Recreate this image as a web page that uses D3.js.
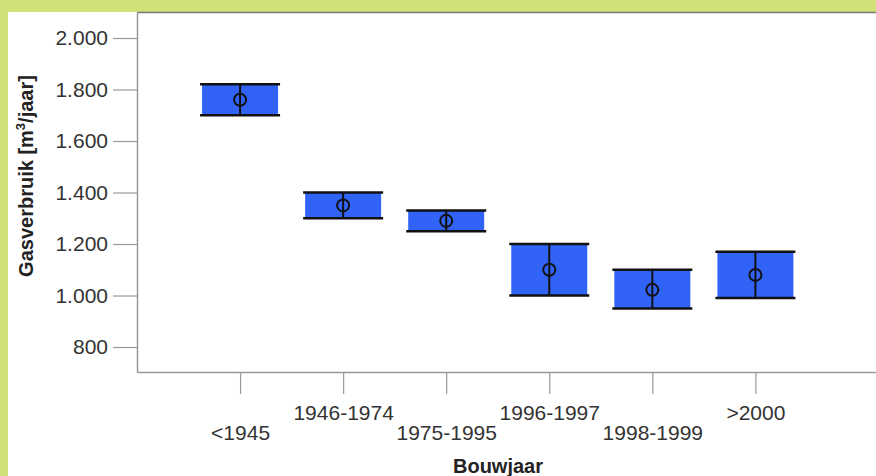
<!DOCTYPE html>
<html>
<head>
<meta charset="utf-8">
<script src="https://cdn.jsdelivr.net/npm/d3@7/dist/d3.min.js"></script>
<style>
  body { margin: 0; background: #d2e07a; }
  svg { display: block; }
</style>
</head>
<body>
<svg id="chart" width="876" height="476"></svg>
<script>
// data
const categories = ['<1945', '1946-1974', '1975-1995', '1996-1997', '1998-1999', '>2000']
const lowValues = [1700, 1300, 1250, 1000, 950, 990]
const highValues = [1820, 1400, 1330, 1200, 1100, 1170]
const meanValues = [1760, 1350, 1290, 1100, 1022, 1080]
const yTicks = [800, 1000, 1200, 1400, 1600, 1800, 2000]

const svg = d3.select('#chart')
const W = 876, H = 476
let margin = { top: 12, left: 137, bottom: 372 }

// white panel
svg.append('rect').attr('x', 8).attr('y', 12).attr('width', W - 8).attr('height', H - 12).attr('fill', '#fff')

let x = d3.scaleLinear().domain([0, 7.17]).range([margin.left, W])
let y = d3.scaleLinear().domain([703, 2101]).range([margin.bottom, margin.top])

const nl = d3.formatLocale({ decimal: ',', thousands: '.', grouping: [3], currency: ['€', ''] })
const fmt = nl.format(',')

// top border
svg.append('line').attr('x1', margin.left).attr('x2', W).attr('y1', 12.5).attr('y2', 12.5)
  .attr('stroke', '#777').attr('stroke-width', 1.5)

// y axis
let yAxis = d3.axisLeft(y).tickValues(yTicks).tickFormat(fmt).tickSize(24).tickPadding(5).tickSizeOuter(0)
let gy = svg.append('g').attr('transform', 'translate(' + margin.left + ',0)').call(yAxis)
gy.select('.domain').attr('stroke', '#999').attr('stroke-width', 1.5)
gy.selectAll('.tick line').attr('stroke', '#999').attr('stroke-width', 1.2)
gy.selectAll('.tick text').attr('font-family', 'Liberation Sans, Arial, sans-serif')
  .attr('font-size', '21px').attr('fill', '#333')

// x axis
let xAxis = d3.axisBottom(x).tickValues(d3.range(1, categories.length + 1))
  .tickFormat(i => categories[i - 1]).tickSize(22).tickSizeOuter(0)
let gx = svg.append('g').attr('transform', 'translate(0,' + margin.bottom + ')').call(xAxis)
gx.select('.domain').attr('stroke', '#999').attr('stroke-width', 1.5)
gx.selectAll('.tick line').attr('stroke', '#999').attr('stroke-width', 1.2)
gx.selectAll('.tick text').attr('font-family', 'Liberation Sans, Arial, sans-serif')
  .attr('font-size', '21px').attr('fill', '#333')
  .attr('dy', null)
  .attr('y', (d, i) => i % 2 === 0 ? 68 : 48)

// boxes
const boxW = 76
const rows = categories.map((c, i) => ({ i: i + 1, lo: lowValues[i], hi: highValues[i], m: meanValues[i] }))
let boxes = svg.append('g').selectAll('g').data(rows).join('g')
boxes.append('rect')
  .attr('x', d => x(d.i) - boxW / 2).attr('width', boxW)
  .attr('y', d => y(d.hi)).attr('height', d => y(d.lo) - y(d.hi))
  .attr('fill', '#3163f6')
boxes.append('line')
  .attr('x1', d => x(d.i)).attr('x2', d => x(d.i))
  .attr('y1', d => y(d.hi)).attr('y2', d => y(d.lo))
  .attr('stroke', '#111').attr('stroke-width', 2)
boxes.selectAll('.cap').data(d => [{ i: d.i, v: d.hi }, { i: d.i, v: d.lo }]).join('line')
  .attr('class', 'cap')
  .attr('x1', d => x(d.i) - boxW / 2 - 2).attr('x2', d => x(d.i) + boxW / 2 + 2)
  .attr('y1', d => y(d.v)).attr('y2', d => y(d.v))
  .attr('stroke', '#111').attr('stroke-width', 2.5)
boxes.append('circle')
  .attr('cx', d => x(d.i)).attr('cy', d => y(d.m)).attr('r', 6)
  .attr('fill', 'none').attr('stroke', '#111').attr('stroke-width', 2)

// axis titles
svg.append('text')
  .attr('transform', 'translate(33,176) rotate(-90)')
  .attr('text-anchor', 'middle')
  .attr('font-family', 'Liberation Sans, Arial, sans-serif')
  .attr('font-size', '20px').attr('font-weight', 'bold').attr('fill', '#222')
  .call(t => {
    t.append('tspan').text('Gasverbruik [m')
    t.append('tspan').text('3').attr('font-size', '13px').attr('dy', -8)
    t.append('tspan').text('/jaar]').attr('dy', 8)
  })
svg.append('text')
  .attr('x', 498).attr('y', 473)
  .attr('text-anchor', 'middle')
  .attr('font-family', 'Liberation Sans, Arial, sans-serif')
  .attr('font-size', '20px').attr('font-weight', 'bold').attr('fill', '#222')
  .text('Bouwjaar')
</script>
</body>
</html>
